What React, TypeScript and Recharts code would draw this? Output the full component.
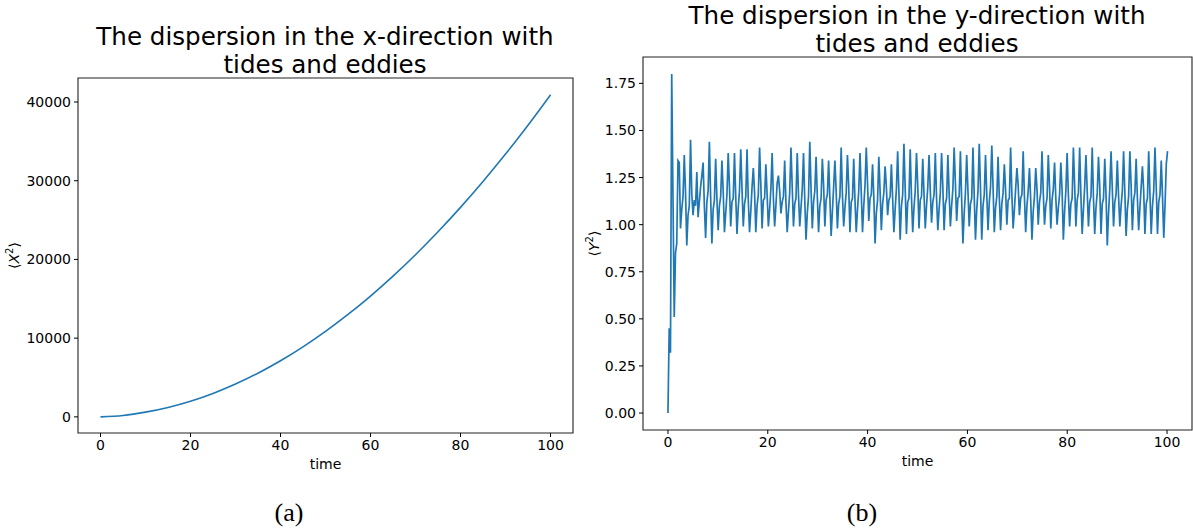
import { Line, LineChart, ReferenceArea, XAxis, YAxis } from 'recharts'

// (a) <X^2> against time, read every 5 time units
const xTimes = [0, 5, 10, 15, 20, 25, 30, 35, 40, 45, 50, 55, 60, 65, 70, 75, 80, 85, 90, 95, 100]
const xSquare = [
  0, 180, 600, 1200, 1990, 2980, 4170, 5550, 7130, 8900, 10860, 13010, 15350, 17880, 20600,
  23510, 26610, 29900, 33380, 37050, 40910,
]
const xSquareTicks = [0, 10000, 20000, 30000, 40000]
const timeTicks = [0, 20, 40, 60, 80, 100]

// (b) <Y^2> sampled on a uniform time grid, five samples per tidal cycle
const Y_STEP = 0.2515
const yStart = [0.0, 0.45, 0.32, 1.8, 1.15, 0.51, 0.85, 0.9]
const yCycles = [
  [1.34, 1.33, 0.98, 1.08, 1.15],
  [1.37, 1.17, 0.89, 1.05, 1.1],
  [1.45, 1.16, 1.05, 1.13, 1.1],
  [1.28, 1.04, 1.12, 1.2, 1.26],
  [1.33, 1.1, 0.93, 1.12, 1.18],
  [1.44, 1.15, 0.9, 1.08, 1.13],
  [1.35, 1.14, 0.97, 1.1, 1.15],
  [1.34, 1.18, 0.96, 1.06, 1.16],
  [1.38, 1.2, 0.99, 1.12, 1.14],
  [1.38, 1.15, 0.95, 1.09, 1.18],
  [1.4, 1.19, 0.99, 1.11, 1.15],
  [1.4, 1.13, 0.96, 1.07, 1.2],
  [1.3, 1.17, 0.96, 1.1, 1.16],
  [1.41, 1.21, 0.98, 1.13, 1.14],
  [1.32, 1.16, 0.99, 1.08, 1.19],
  [1.38, 1.14, 0.99, 1.1, 1.22],
  [1.26, 1.18, 1.06, 1.12, 1.15],
  [1.34, 1.12, 0.96, 1.07, 1.17],
  [1.41, 1.2, 0.99, 1.11, 1.14],
  [1.38, 1.16, 0.99, 1.09, 1.19],
  [1.38, 1.13, 0.92, 1.06, 1.15],
  [1.44, 1.19, 0.98, 1.12, 1.18],
  [1.36, 1.15, 0.96, 1.1, 1.14],
  [1.35, 1.21, 0.99, 1.13, 1.16],
  [1.34, 1.14, 0.94, 1.07, 1.2],
  [1.34, 1.18, 0.98, 1.11, 1.15],
  [1.41, 1.16, 0.99, 1.09, 1.17],
  [1.37, 1.2, 0.96, 1.12, 1.14],
  [1.35, 1.13, 0.96, 1.08, 1.18],
  [1.38, 1.17, 0.96, 1.1, 1.21],
  [1.41, 1.22, 1.02, 1.14, 1.16],
  [1.32, 1.15, 0.9, 1.06, 1.13],
  [1.36, 1.18, 0.97, 1.11, 1.17],
  [1.31, 1.2, 1.05, 1.13, 1.15],
  [1.32, 1.14, 0.96, 1.08, 1.19],
  [1.39, 1.17, 0.92, 1.1, 1.16],
  [1.43, 1.19, 0.95, 1.12, 1.14],
  [1.4, 1.15, 0.96, 1.09, 1.18],
  [1.38, 1.21, 0.98, 1.13, 1.15],
  [1.35, 1.16, 0.98, 1.1, 1.2],
  [1.37, 1.18, 1.01, 1.12, 1.16],
  [1.38, 1.14, 0.97, 1.08, 1.17],
  [1.38, 1.2, 0.97, 1.11, 1.14],
  [1.37, 1.17, 0.99, 1.1, 1.19],
  [1.41, 1.22, 1.02, 1.14, 1.15],
  [1.39, 1.13, 0.9, 1.06, 1.17],
  [1.37, 1.18, 0.99, 1.11, 1.14],
  [1.41, 1.15, 0.92, 1.08, 1.18],
  [1.43, 1.19, 0.92, 1.1, 1.16],
  [1.37, 1.16, 0.97, 1.12, 1.2],
  [1.42, 1.2, 0.96, 1.09, 1.15],
  [1.36, 1.14, 0.97, 1.11, 1.17],
  [1.32, 1.18, 1.0, 1.13, 1.14],
  [1.41, 1.16, 0.98, 1.08, 1.19],
  [1.3, 1.21, 1.05, 1.14, 1.16],
  [1.39, 1.15, 0.96, 1.1, 1.18],
  [1.3, 1.13, 0.92, 1.07, 1.15],
  [1.3, 1.19, 1.0, 1.12, 1.17],
  [1.39, 1.17, 1.0, 1.1, 1.14],
  [1.37, 1.2, 0.98, 1.13, 1.19],
  [1.33, 1.14, 1.0, 1.09, 1.16],
  [1.33, 1.18, 0.92, 1.07, 1.18],
  [1.38, 1.16, 0.99, 1.11, 1.14],
  [1.41, 1.21, 0.99, 1.13, 1.17],
  [1.41, 1.15, 0.95, 1.08, 1.2],
  [1.37, 1.18, 0.99, 1.12, 1.15],
  [1.41, 1.14, 0.95, 1.09, 1.17],
  [1.36, 1.2, 0.95, 1.11, 1.14],
  [1.35, 1.16, 0.89, 1.06, 1.19],
  [1.39, 1.19, 0.99, 1.12, 1.16],
  [1.34, 1.15, 0.99, 1.1, 1.18],
  [1.39, 1.17, 0.94, 1.08, 1.15],
  [1.39, 1.21, 0.97, 1.13, 1.17],
  [1.35, 1.14, 0.97, 1.09, 1.2],
  [1.31, 1.18, 0.95, 1.11, 1.14],
  [1.39, 1.16, 0.95, 1.1, 1.18],
  [1.41, 1.2, 0.95, 1.12, 1.16],
  [1.34, 1.15, 0.93, 1.1, 1.32],
]
const yEnd = [1.39]
const ySquareTicks = [0, 0.25, 0.5, 0.75, 1.0, 1.25, 1.5, 1.75]

const BLUE = '#1f77b4'
const FONT = '"DejaVu Sans", sans-serif'

const xData = xTimes.map((t, i) => ({ t, v: xSquare[i] }))
const yData = [...yStart, ...yCycles.flat(), ...yEnd].map((v, i) => ({
  t: Number((i * Y_STEP).toFixed(4)),
  v,
}))

const tickStyle = { fontSize: 14, fill: '#000', fontFamily: FONT }

function MomentLabel(props: any) {
  const vb = props.viewBox || {}
  const x = vb.x + vb.width - props.gap
  const y = vb.y + vb.height / 2
  return (
    <text
      x={x}
      y={y}
      transform={`rotate(-90, ${x}, ${y})`}
      textAnchor="middle"
      fontSize={14}
      fontFamily={FONT}
      fill="#000"
    >
      ⟨<tspan fontStyle="italic">{props.letter}</tspan>
      <tspan dy={-6} fontSize={10}>2</tspan>
      <tspan dy={6}>⟩</tspan>
    </text>
  )
}

function TimeLabel(props: any) {
  const vb = props.viewBox || {}
  return (
    <text
      x={vb.x + vb.width / 2}
      y={vb.y + 36}
      textAnchor="middle"
      fontSize={14}
      fontFamily={FONT}
      fill="#000"
    >
      time
    </text>
  )
}

const titleStyle = {
  position: 'absolute' as const,
  width: 600,
  textAlign: 'center' as const,
  fontFamily: FONT,
  fontSize: 24.6,
  lineHeight: '28px',
  color: '#000',
}

const captionStyle = {
  position: 'absolute' as const,
  width: 100,
  top: 498,
  textAlign: 'center' as const,
  fontFamily: '"Liberation Serif", serif',
  fontSize: 26,
  lineHeight: '30px',
  color: '#000',
}

export default function App() {
  return (
    <div style={{ position: 'absolute', left: 0, top: 0, width: 1193, height: 530, background: '#fff' }}>
      <div style={{ ...titleStyle, left: 25, top: 23 }}>
        The dispersion in the x-direction with
        <br />
        tides and eddies
      </div>
      <div style={{ ...titleStyle, left: 617, top: 2 }}>
        The dispersion in the y-direction with
        <br />
        tides and eddies
      </div>

      <div style={{ position: 'absolute', left: 0, top: 0 }}>
        <LineChart width={590} height={530} data={xData} margin={{ top: 78, right: 17, bottom: 47, left: 8 }}>
          <XAxis
            dataKey="t"
            type="number"
            domain={[-5, 105]}
            ticks={timeTicks}
            interval={0}
            axisLine={false}
            tickLine={{ stroke: '#000' }}
            tickSize={4}
            tickMargin={3}
            tick={tickStyle}
            height={50}
            allowDataOverflow
            label={{ content: (p: any) => <TimeLabel {...p} /> }}
          />
          <YAxis
            type="number"
            domain={[-2050, 43050]}
            ticks={xSquareTicks}
            interval={0}
            axisLine={false}
            tickLine={{ stroke: '#000' }}
            tickSize={4}
            tickMargin={3}
            tick={tickStyle}
            width={70}
            allowDataOverflow
            label={{ content: (p: any) => <MomentLabel {...p} letter="X" gap={59} /> }}
          />
          <ReferenceArea
            x1={-5}
            x2={105}
            y1={-2050}
            y2={43050}
            fill="#fff"
            fillOpacity={0}
            stroke="#222"
            strokeWidth={1.1}
            ifOverflow="visible"
          />
          <Line
            type="monotone"
            dataKey="v"
            stroke={BLUE}
            strokeWidth={1.6}
            dot={false}
            isAnimationActive={false}
          />
        </LineChart>
      </div>

      <div style={{ position: 'absolute', left: 560, top: 0 }}>
        <LineChart width={633} height={530} data={yData} margin={{ top: 57, right: 1, bottom: 50, left: 33 }}>
          <XAxis
            dataKey="t"
            type="number"
            domain={[-5, 105]}
            ticks={timeTicks}
            interval={0}
            axisLine={false}
            tickLine={{ stroke: '#000' }}
            tickSize={4}
            tickMargin={3}
            tick={tickStyle}
            height={50}
            allowDataOverflow
            label={{ content: (p: any) => <TimeLabel {...p} /> }}
          />
          <YAxis
            type="number"
            domain={[-0.09, 1.89]}
            ticks={ySquareTicks}
            interval={0}
            axisLine={false}
            tickLine={{ stroke: '#000' }}
            tickSize={4}
            tickMargin={3}
            tick={tickStyle}
            tickFormatter={(v: number) => v.toFixed(2)}
            width={50}
            allowDataOverflow
            label={{ content: (p: any) => <MomentLabel {...p} letter="Y" gap={44} /> }}
          />
          <ReferenceArea
            x1={-5}
            x2={105}
            y1={-0.09}
            y2={1.89}
            fill="#fff"
            fillOpacity={0}
            stroke="#222"
            strokeWidth={1.1}
            ifOverflow="visible"
          />
          <Line
            type="linear"
            dataKey="v"
            stroke={BLUE}
            strokeWidth={1.7}
            dot={false}
            isAnimationActive={false}
          />
        </LineChart>
      </div>

      <div style={{ ...captionStyle, left: 239 }}>(a)</div>
      <div style={{ ...captionStyle, left: 812 }}>(b)</div>
    </div>
  )
}
